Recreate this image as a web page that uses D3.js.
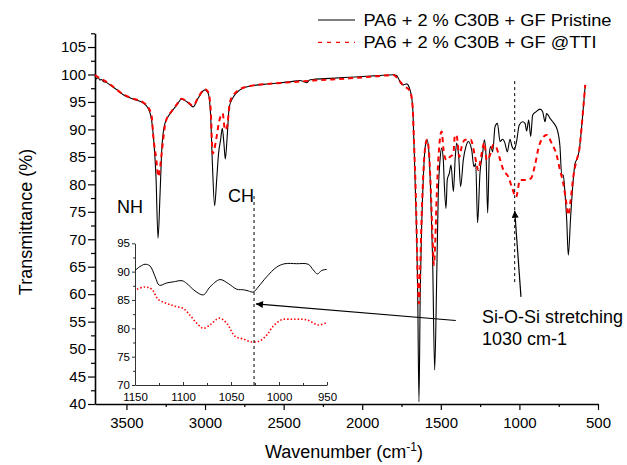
<!DOCTYPE html>
<html>
<head>
<meta charset="utf-8">
<script src="https://cdn.jsdelivr.net/npm/d3@7"></script>
<style>
  body { margin: 0; background: #fff; }
  text { font-family: "Liberation Sans", Arial, sans-serif; fill: #000; }
</style>
</head>
<body>
<svg width="627" height="465"></svg>
<script>

// spectra: [wavenumber, transmittance]
var pristine = [
  [3700,99.7],[3690,99.2],[3680,99.5],[3670,99.0],[3660,99.1],[3645,98.7],[3630,98.6],[3605,98.1],
  [3560,97.2],[3520,96.3],[3456,95.5],[3393,94.8],[3361,93.8],[3340,91.7],[3325,87.5],[3312,81.4],
  [3299,70.2],[3286,78.4],[3274,86.9],[3255,91.1],[3213,93.2],[3181,94.4],[3150,95.5],[3114,95.0],
  [3076,94.1],[3044,95.7],[3001,97.2],[2980,96.6],[2965,92.9],[2954,84.4],[2939,76.1],[2926,80.8],
  [2914,85.6],[2901,88.1],[2890,90.2],[2880,87.5],[2871,84.6],[2859,88.7],[2846,94.1],[2820,95.9],
  [2778,97.2],[2714,97.9],[2587,98.3],[2450,98.7],[2396,98.9],[2353,98.5],[2335,99.0],[2313,99.1],
  [2200,99.3],[2078,99.5],[1900,99.8],[1802,99.96],[1781,99.8],[1770,99.3],[1755,98.4],[1739,98.1],
  [1717,98.3],[1696,97.2],[1679,94.1],[1671,87.5],[1658,75.3],[1647,60.2],[1639,40.4],[1631,60.2],
  [1622,72.3],[1611,81.4],[1599,86.9],[1588,88.1],[1577,86.3],[1565,79.0],[1552,66.2],[1539,46.2],
  [1526,63.3],[1516,78.4],[1505,84.4],[1495,86.6],[1484,84.4],[1478,80.2],[1467,75.6],[1459,80.8],
  [1446,82.0],[1435,83.5],[1420,78.7],[1408,85.0],[1399,87.5],[1386,85.0],[1374,79.6],[1357,84.4],
  [1340,86.9],[1325,87.8],[1304,86.3],[1289,83.2],[1278,83.8],[1266,73.0],[1251,82.0],[1234,85.6],
  [1223,88.1],[1212,85.0],[1202,74.8],[1191,85.6],[1183,86.9],[1170,85.9],[1155,90.5],[1140,91.1],
  [1123,87.8],[1107,88.2],[1092,87.5],[1077,85.9],[1060,88.2],[1047,86.9],[1033,86.3],[1018,87.8],
  [1001,90.8],[980,91.4],[964,91.1],[954,89.7],[941,91.7],[928,88.7],[916,92.6],[895,93.2],
  [869,93.7],[852,93.2],[837,91.4],[827,92.9],[805,92.0],[780,91.1],[759,89.9],[742,86.9],
  [731,81.7],[721,81.7],[710,78.4],[699,73.5],[689,67.1],[674,74.1],[661,79.6],[646,83.8],
  [632,84.7],[619,86.3],[604,90.5],[593,94.1],[581,98.1]
];

var aged = [
  [3700,99.9],[3670,99.3],[3640,98.9],[3605,98.2],[3520,96.4],[3456,95.6],[3393,94.9],[3361,94.0],
  [3340,92.5],[3329,88.7],[3310,84.5],[3297,81.4],[3286,83.0],[3276,85.6],[3250,91.4],[3213,93.3],
  [3181,94.5],[3150,95.6],[3114,95.1],[3076,94.3],[3044,95.8],[3001,97.3],[2980,96.8],[2965,94.0],
  [2951,85.6],[2940,86.5],[2926,88.7],[2910,91.5],[2888,92.9],[2873,89.9],[2860,90.5],[2841,95.0],
  [2820,96.2],[2778,97.3],[2714,97.9],[2587,98.3],[2450,98.6],[2313,98.9],[2078,99.3],[1900,99.7],
  [1802,99.9],[1770,99.1],[1739,98.0],[1696,97.0],[1679,94.0],[1671,88.0],[1658,77.0],[1647,63.0],
  [1639,58.3],[1631,65.0],[1622,74.0],[1611,82.0],[1599,86.9],[1588,88.1],[1577,86.5],[1565,80.0],
  [1552,70.0],[1544,65.3],[1535,70.0],[1526,78.0],[1516,84.4],[1495,89.6],[1480,85.6],[1463,84.4],
  [1442,85.0],[1420,85.6],[1410,89.0],[1399,88.8],[1382,85.0],[1367,86.9],[1346,88.1],[1310,88.1],
  [1282,85.0],[1261,82.6],[1244,85.0],[1223,87.6],[1208,84.4],[1187,85.3],[1166,87.2],[1145,86.6],
  [1128,85.0],[1102,82.6],[1071,81.4],[1049,79.6],[1021,77.7],[996,80.8],[964,80.8],[926,81.1],
  [901,83.5],[873,87.2],[827,89.0],[795,87.5],[763,85.3],[742,82.6],[721,80.2],[704,77.1],
  [689,74.4],[674,77.1],[657,81.4],[636,84.4],[619,86.3],[604,90.5],[593,94.1],[581,98.1]
];

// inset, 1150 - 950 cm-1
var insetPristine = [
  [1150,90.2],[1144.8,90.9],[1139.6,91.3],[1134.4,91.0],[1129,89.1],[1124.7,87.6],[1117,88.0],
  [1110,88.2],[1101,88.4],[1096,87.9],[1087.5,86.6],[1078.8,85.9],[1071.9,87.3],[1061.5,88.6],
  [1052.8,87.9],[1044,86.9],[1037,86.8],[1032,86.6],[1026.8,86.4],[1021.6,87.3],[1012.8,89.1],
  [1002.4,90.8],[993.8,91.4],[981.6,91.4],[969.5,91.3],[964.3,90.3],[960,89.6],[955.6,90.2],[950.4,90.4]
];
var insetAged = [
  [1148,86.9],[1139.6,87.3],[1132.6,86.9],[1125.7,85.1],[1117,84.4],[1108.3,83.9],[1099.6,83.5],
  [1092.7,82.3],[1085.7,80.9],[1078.8,80.0],[1071.9,80.6],[1062.2,81.8],[1054.5,80.9],[1045.8,78.6],
  [1037,78.1],[1028.4,77.6],[1019.8,77.8],[1012.8,78.8],[1005.9,80.4],[997.2,81.5],[985.1,81.6],
  [971.2,81.5],[959.1,80.6],[950.4,81.0]
];

var legendNames = ["PA6 + 2 % C30B + GF Pristine", "PA6 + 2 % C30B + GF @TTI"];
var xTicks = [3500, 3000, 2500, 2000, 1500, 1000, 500];
var yTicks = d3.range(40, 106, 5);
var insetXTicks = [1150, 1100, 1050, 1000, 950];
var insetYTicks = [70, 75, 80, 85, 90, 95];

var svg = d3.select("svg");
var fmt = d3.format("d");
var font = "Liberation Sans, Arial, sans-serif";

var x = d3.scaleLinear().domain([3700, 500]).range([95, 598]);
var y = d3.scaleLinear().domain([40, 107.5]).range([404, 33.3]);

var ix = d3.scaleLinear().domain([1150, 950]).range([135, 327]);
var iy = d3.scaleLinear().domain([70, 95]).range([385, 243.3]);

// main axes
var xAxisG = svg.append("g")
    .attr("transform", "translate(0," + y.range()[0] + ")")
    .call(d3.axisBottom(x).tickValues(xTicks).tickFormat(fmt).tickSize(6).tickSizeOuter(0).tickPadding(7));
xAxisG.append("g").call(d3.axisBottom(x).tickValues(d3.range(3250, 600, -500)).tickSize(3).tickFormat("").tickSizeOuter(0))
    .select(".domain").remove();

var yAxisG = svg.append("g")
    .attr("transform", "translate(" + x.range()[0] + ",0)")
    .call(d3.axisLeft(y).tickValues(yTicks).tickFormat(fmt).tickSize(7).tickSizeOuter(0).tickPadding(2));
yAxisG.append("g").call(d3.axisLeft(y).tickValues(d3.range(42.5, 107.6, 5)).tickSize(4).tickFormat("").tickSizeOuter(0))
    .select(".domain").remove();

svg.selectAll(".domain").attr("stroke-width", 1.6);
xAxisG.selectAll("line").attr("stroke-width", 1.2);
yAxisG.selectAll("line").attr("stroke-width", 1.2);
xAxisG.selectAll("text").style("font-size", "15px").style("font-family", font);
yAxisG.selectAll("text").style("font-size", "15px").style("font-family", font);

// axis titles
svg.append("text")
    .attr("transform", "translate(32,222) rotate(-90)")
    .attr("text-anchor", "middle")
    .style("font-size", "18px")
    .text("Transmittance (%)");

var xt = svg.append("text")
    .attr("x", 344).attr("y", 458)
    .attr("text-anchor", "middle")
    .style("font-size", "18px");
xt.append("tspan").text("Wavenumber (cm");
xt.append("tspan").attr("dy", -7).style("font-size", "12px").text("-1");
xt.append("tspan").attr("dy", 7).text(")");

// main spectra
var line = d3.line()
    .x(function(d) { return x(d[0]); })
    .y(function(d) { return y(d[1]); })
    .curve(d3.curveMonotoneX);

svg.append("path")
    .attr("d", line(pristine))
    .attr("fill", "none")
    .attr("stroke", "#000")
    .attr("stroke-width", 1.1);

svg.append("path")
    .attr("d", line(aged))
    .attr("fill", "none")
    .attr("stroke", "#ff0000")
    .attr("stroke-width", 2)
    .attr("stroke-dasharray", "5,4");

// inset
var ixAxis = svg.append("g")
    .attr("transform", "translate(0," + iy.range()[0] + ")")
    .call(d3.axisBottom(ix).tickValues(insetXTicks).tickFormat(fmt).tickSize(-3).tickSizeOuter(0).tickPadding(8));
ixAxis.append("g").call(d3.axisBottom(ix).tickValues([1125, 1075, 1025, 975]).tickSize(-2).tickFormat("").tickSizeOuter(0))
    .select(".domain").remove();
var iyAxis = svg.append("g")
    .attr("transform", "translate(" + ix.range()[0] + ",0)")
    .call(d3.axisLeft(iy).tickValues(insetYTicks).tickFormat(fmt).tickSize(3).tickSizeOuter(0).tickPadding(2));
iyAxis.append("g").call(d3.axisLeft(iy).tickValues([72.5, 77.5, 82.5, 87.5, 92.5]).tickSize(2).tickFormat("").tickSizeOuter(0))
    .select(".domain").remove();
ixAxis.selectAll("path, line").attr("stroke", "#333");
iyAxis.selectAll("path, line").attr("stroke", "#333");
ixAxis.selectAll("text").style("font-size", "11.5px").style("font-family", font);
iyAxis.selectAll("text").style("font-size", "11.5px").style("font-family", font);

var iline = d3.line()
    .x(function(d) { return ix(d[0]); })
    .y(function(d) { return iy(d[1]); })
    .curve(d3.curveCatmullRom.alpha(0.5));

svg.append("path")
    .attr("d", iline(insetPristine))
    .attr("fill", "none")
    .attr("stroke", "#000")
    .attr("stroke-width", 1);

svg.append("path")
    .attr("d", iline(insetAged))
    .attr("fill", "none")
    .attr("stroke", "#ff0000")
    .attr("stroke-width", 1.6)
    .attr("stroke-dasharray", "1.5,2");

// guide lines at 1030 cm-1
svg.append("line")
    .attr("x1", x(1030)).attr("x2", x(1030))
    .attr("y1", y(98.8)).attr("y2", y(62.2))
    .attr("stroke", "#000").attr("stroke-width", 1).attr("stroke-dasharray", "3,3");

svg.append("line")
    .attr("x1", ix(1026)).attr("x2", ix(1026))
    .attr("y1", 196).attr("y2", iy(70))
    .attr("stroke", "#000").attr("stroke-width", 1).attr("stroke-dasharray", "3,3");

// arrows
svg.append("defs").append("marker")
    .attr("id", "head")
    .attr("viewBox", "0 0 10 10")
    .attr("refX", 10).attr("refY", 5)
    .attr("markerWidth", 10).attr("markerHeight", 7)
    .attr("markerUnits", "userSpaceOnUse")
    .attr("orient", "auto")
    .append("path").attr("d", "M0,0L10,5L0,10z").attr("fill", "#000");

svg.append("line")
    .attr("x1", x(990)).attr("y1", y(59.5))
    .attr("x2", x(1030)).attr("y2", y(75.2))
    .attr("stroke", "#000").attr("stroke-width", 1.2)
    .attr("marker-end", "url(#head)");

svg.append("line")
    .attr("x1", x(1405)).attr("y1", y(55.2))
    .attr("x2", ix(1024)).attr("y2", iy(84.3))
    .attr("stroke", "#000").attr("stroke-width", 1.2)
    .attr("marker-end", "url(#head)");

// labels
svg.append("text").attr("x", 117).attr("y", 213).style("font-size", "18px").text("NH");
svg.append("text").attr("x", 228).attr("y", 202).style("font-size", "18px").text("CH");
svg.append("text").attr("x", 482).attr("y", 323).style("font-size", "18px").text("Si-O-Si stretching");
svg.append("text").attr("x", 482).attr("y", 345).style("font-size", "18px").text("1030 cm-1");

// legend (text in the figure is drawn wide)
var legendWidths = [248, 233];
var legend = svg.append("g").attr("transform", "translate(318,20)");
legendNames.forEach(function(name, i) {
    var row = legend.append("g").attr("transform", "translate(0," + (i * 22.4) + ")");
    row.append("line")
        .attr("x1", 0).attr("x2", 37).attr("y1", 0).attr("y2", 0)
        .attr("stroke", i === 0 ? "#555" : "#ff0000")
        .attr("stroke-width", 1.4)
        .attr("stroke-dasharray", i === 0 ? null : "4,5");
    row.append("text")
        .attr("x", 45.5).attr("y", 5.7)
        .attr("textLength", legendWidths[i])
        .attr("lengthAdjust", "spacingAndGlyphs")
        .style("font-size", "15.8px")
        .text(name);
});
</script>
</body>
</html>
